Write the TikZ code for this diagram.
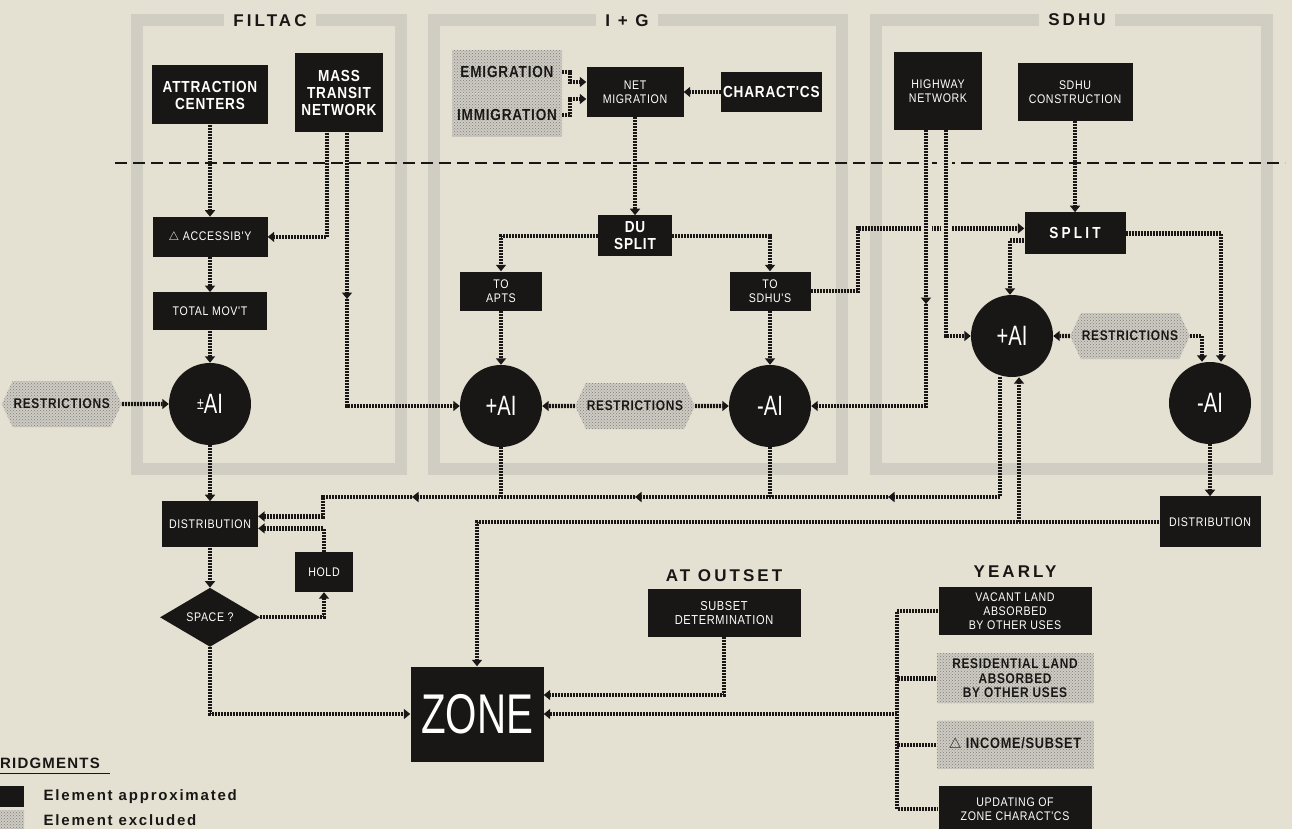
\documentclass[tikz,border=0pt]{standalone}
\usepackage{fontspec}
\setmainfont{Liberation Sans}
\newfontfamily\narrowfont[FakeStretch=0.85,LetterSpace=5]{Liberation Sans}
\newfontfamily\zonefont[FakeStretch=0.72]{Liberation Sans}
\usepackage{tikz}
\usetikzlibrary{arrows.meta,positioning,shapes.geometric,shapes.symbols,patterns}
\definecolor{paper}{RGB}{229,225,210}
\definecolor{ink}{RGB}{24,23,22}
\definecolor{frame}{RGB}{208,205,195}
\definecolor{shade}{RGB}{206,203,194}

\begin{document}
\begin{tikzpicture}[
    x=1pt, y=-1pt,
    box/.style={
      fill=ink,
      text=white,
      align=center,
      font=\narrowfont\fontsize{12.5}{14}\selectfont,
      inner sep=1pt
    },
    bigbox/.style={box, font=\narrowfont\bfseries\fontsize{16}{17}\selectfont},
    excluded/.style={
      preaction={fill=shade},
      pattern=crosshatch dots,
      pattern color=ink!55,
      text=ink,
      align=center,
      font=\narrowfont\bfseries\fontsize{16}{17}\selectfont,
      inner sep=1pt
    },
    restrict/.style={
      excluded, signal, signal to=west and east, signal pointer angle=130,
      minimum width=116pt, minimum height=46pt,
      font=\narrowfont\bfseries\fontsize{14}{15}\selectfont
    },
    ai/.style={
      circle, fill=ink, text=white, minimum size=82pt, inner sep=0pt,
      font=\zonefont\fontsize{28}{28}\selectfont
    },
    panel/.style={draw=frame, line width=12pt},
    heading/.style={
      text=ink, inner sep=0pt,
      font=\bfseries\fontsize{17}{17}\selectfont\addfontfeature{LetterSpace=18}
    },
    arrow/.style={
      draw=ink, line width=4.2pt, dash pattern=on 2.1pt off 0.9pt,
      -{Triangle[length=6.5pt,width=10pt]}
    },
    feed/.style={draw=ink, line width=4.2pt, dash pattern=on 2.1pt off 0.9pt},
    halo/.style={preaction={draw=paper, line width=11pt, solid, -}}
  ]
  \useasboundingbox (0,0) rectangle (1292,829);
  \fill[paper] (0,0) rectangle (1292,829);

  % frames
  \draw[panel] (137,20) rectangle (401,469);
  \draw[panel] (434,20) rectangle (842,469);
  \draw[panel] (876,20) rectangle (1267,469);
  \node[heading, fill=paper, inner xsep=9pt, minimum height=18pt] (filtac) at (270,21) {FILTAC};
  \node[heading, fill=paper, inner xsep=9pt, minimum height=18pt] (ig) at (627,21) {I + G};
  \node[heading, fill=paper, inner xsep=9pt, minimum height=18pt] (sdhu) at (1077,20) {SDHU};
  \draw[ink, line width=2.2pt, dash pattern=on 12pt off 6pt] (115,163) -- (1285,163);

  % FILTAC
  \node[bigbox, minimum width=116pt, minimum height=59pt] (attr) at (210,95) {ATTRACTION\\CENTERS};
  \node[bigbox, minimum width=88pt, minimum height=79pt] (transit) at (339,93) {MASS\\TRANSIT\\NETWORK};
  \node[box, minimum width=115pt, minimum height=40pt, below=92pt of attr] (access) {$\triangle$ ACCESSIB'Y};
  \node[box, minimum width=114pt, minimum height=38pt, below=35pt of access] (totmov) {TOTAL MOV'T};
  \node[ai] (filai) at (210,404) {{\fontsize{17}{17}\selectfont\raisebox{4pt}{±}}AI};
  \node[restrict, left=47pt of filai] (restrA) {RESTRICTIONS};
  \node[box, minimum width=96pt, minimum height=46pt, below=56pt of filai] (fildist) {DISTRIBUTION};
  \node[diamond, fill=ink, text=white, aspect=1.7, inner sep=0pt, minimum width=100pt,
        minimum height=59pt, font=\narrowfont\fontsize{12.5}{13}\selectfont,
        below=40pt of fildist] (space) {SPACE ?};
  \node[box, minimum width=58pt, minimum height=40pt] (hold) at (324,572) {HOLD};

  % I + G
  \node[excluded, minimum width=110pt, minimum height=43pt] (emig) at (507,72) {EMIGRATION};
  \node[excluded, minimum width=110pt, minimum height=43pt, below=0pt of emig] (imig) {IMMIGRATION};
  \node[box, minimum width=97pt, minimum height=50pt] (netmig) at (635,92) {NET\\MIGRATION};
  \node[bigbox, minimum width=101pt, minimum height=40pt, right=37pt of netmig] (charac) {CHARACT'CS};
  \node[bigbox, minimum width=74pt, minimum height=41pt, below=98pt of netmig] (dusplit) {DU\\SPLIT};
  \node[box, minimum width=82pt, minimum height=39pt] (toapts) at (501,291) {TO\\APTS};
  \node[box, minimum width=81pt, minimum height=39pt] (tosdhu) at (770,291) {TO\\SDHU'S};
  \node[ai] (igplus) at (501,406) {+AI};
  \node[ai] (igminus) at (770,406) {-AI};
  \node[restrict] (restrB) at (635,406) {RESTRICTIONS};

  % SDHU
  \node[box, minimum width=88pt, minimum height=78pt] (highway) at (938,91) {HIGHWAY\\NETWORK};
  \node[box, minimum width=115pt, minimum height=58pt] (sdhucon) at (1075,92) {SDHU\\CONSTRUCTION};
  \node[bigbox, minimum width=101pt, minimum height=42pt, below=91pt of sdhucon,
        font=\narrowfont\bfseries\fontsize{16}{17}\selectfont\addfontfeature{LetterSpace=20}] (split) {SPLIT};
  \node[ai] (sdplus) at (1012,336) {+AI};
  \node[restrict] (restrC) at (1130,336) {RESTRICTIONS};
  \node[ai] (sdminus) at (1210,403) {-AI};
  \node[box, minimum width=101pt, minimum height=51pt, below=52pt of sdminus] (sddist) {DISTRIBUTION};

  % zone and updates
  \node[box, minimum width=133pt, minimum height=95pt, font=\zonefont\fontsize{56}{56}\selectfont] (zone) at (477,714) {ZONE};
  \node[box, minimum width=153pt, minimum height=48pt, font=\narrowfont\fontsize{13}{14}\selectfont] (subset) at (724,613) {SUBSET\\DETERMINATION};
  \node[heading, above=7pt of subset] (outset) {AT OUTSET};
  \node[box, minimum width=153pt, minimum height=48pt] (vacant) at (1015,611) {VACANT LAND\\ABSORBED\\BY OTHER USES};
  \node[heading, above=9pt of vacant] (yearly) {YEARLY};
  \node[excluded, minimum width=157pt, minimum height=50pt, font=\narrowfont\bfseries\fontsize{14}{14.5}\selectfont,
        below=18pt of vacant] (resid) {RESIDENTIAL LAND\\ABSORBED\\BY OTHER USES};
  \node[excluded, minimum width=157pt, minimum height=48pt, font=\narrowfont\bfseries\fontsize{15}{16}\selectfont,
        below=17pt of resid] (income) {$\triangle$ INCOME/SUBSET};
  \node[box, minimum width=153pt, minimum height=46pt, below=17pt of income] (update) {UPDATING OF\\ZONE CHARACT'CS};

  % legend
  \node[heading, anchor=west, font=\bfseries\fontsize{15}{15}\selectfont\addfontfeature{LetterSpace=8}] (abridg) at (0,763) {RIDGMENTS};
  \draw[ink, line width=1.4pt] (abridg.south west) ++(0,5) -- ++(110,0);
  \node[box, minimum width=24pt, minimum height=21pt, anchor=north west] (keyA) at (0,786) {};
  \node[excluded, minimum width=24pt, minimum height=19pt, anchor=north west] (keyB) at (0,810) {};
  \node[right=19pt of keyA, inner sep=0pt, text=ink, font=\bfseries\fontsize{15}{15}\selectfont\addfontfeature{LetterSpace=12}] (keyAtext) {Element approximated};
  \node[right=19pt of keyB, inner sep=0pt, text=ink, font=\bfseries\fontsize{15}{15}\selectfont\addfontfeature{LetterSpace=12}] (keyBtext) {Element excluded};

  % named points
  \coordinate (tl) at ([xshift=-12pt]transit.south);
  \coordinate (tr) at ([xshift=8pt]transit.south);
  \coordinate (tdrop) at (347,299);
  \coordinate (hwl) at ([xshift=-12pt]highway.south);
  \coordinate (hwr) at ([xshift=8pt]highway.south);
  \coordinate (hwdrop) at (926,304);
  \coordinate (downleg) at ([xshift=-12pt]sdplus.south);
  \coordinate (upleg) at ([xshift=7pt]sdplus.south);
  \coordinate (busA) at (888,497);
  \coordinate (busB) at (635,497);
  \coordinate (busC) at (412,497);
  \coordinate (busD) at (323,497);
  \coordinate (ybar) at (897,714);

  % FILTAC flows
  \draw[arrow] (attr) -- (access);
  \draw[arrow] (tl) |- (access.east);
  \draw[arrow] (tr) -- (tdrop);
  \draw[arrow] (tdrop) |- (igplus);
  \draw[arrow] (access) -- (totmov);
  \draw[arrow] (totmov) -- (filai);
  \draw[arrow] (restrA) -- (filai);
  \draw[arrow] (filai) -- (fildist);
  \draw[arrow] (fildist) -- (space);
  \draw[arrow] (space.east) -| (hold.south);
  \draw[arrow] (hold.north) |- ([yshift=-4pt]fildist.east);

  % I + G flows
  \draw[arrow] (emig.east) -- ++(8,0) |- ([yshift=10pt]netmig.west);
  \draw[arrow] (imig.east) -- ++(8,0) |- ([yshift=-7pt]netmig.west);
  \draw[arrow] (charac) -- (netmig);
  \draw[arrow] (netmig) -- (dusplit);
  \draw[arrow] (dusplit.west) -| (toapts.north);
  \draw[arrow] (dusplit.east) -| (tosdhu.north);
  \draw[arrow] (toapts) -- (igplus);
  \draw[arrow] (tosdhu) -- (igminus);
  \draw[arrow] (restrB) -- (igplus);
  \draw[arrow] (restrB) -- (igminus);
  \draw[arrow] (tosdhu.east) -- ++(47,0) |- ([yshift=5pt]split.west);

  % SDHU flows
  \draw[arrow] (sdhucon) -- (split);
  \draw[arrow, halo] (hwl) -- (hwdrop);
  \draw[arrow] (hwdrop) |- (igminus);
  \draw[arrow, halo] (hwr) |- (sdplus);
  \draw[arrow] ([yshift=-7pt]split.west) -| ([xshift=-2pt]sdplus.north);
  \draw[arrow] (split.east) -| ([xshift=11pt]sdminus.north);
  \draw[arrow] (restrC) -- (sdplus);
  \draw[arrow] (restrC.east) -| ([xshift=-8pt]sdminus.north);
  \draw[arrow] (sdminus) -- (sddist);

  % feedback to distribution
  \draw[arrow] (downleg) |- (busA);
  \draw[arrow] (busA) -- (busB);
  \draw[arrow] (busB) -- (busC);
  \draw[arrow] (busC) -- (busD) |- ([yshift=8pt]fildist.east);
  \draw[feed] (igplus.south) -- (igplus.south |- busB);
  \draw[feed] (igminus.south) -- (igminus.south |- busB);

  % into zone
  \draw[arrow] (sddist.west) -| (zone.north);
  \draw[arrow] (upleg |- sddist.west) -- (upleg);
  \draw[arrow] (space.south) |- (zone.west);
  \draw[arrow] (subset.south) |- ([yshift=19pt]zone.east);
  \draw[feed] (vacant.west) -| (ybar) |- (update.west);
  \draw[feed] (resid.west) -- (resid.west -| ybar);
  \draw[feed] (income.west) -- (income.west -| ybar);
  \draw[arrow] (ybar) -- (zone.east);
\end{tikzpicture}
\end{document}
